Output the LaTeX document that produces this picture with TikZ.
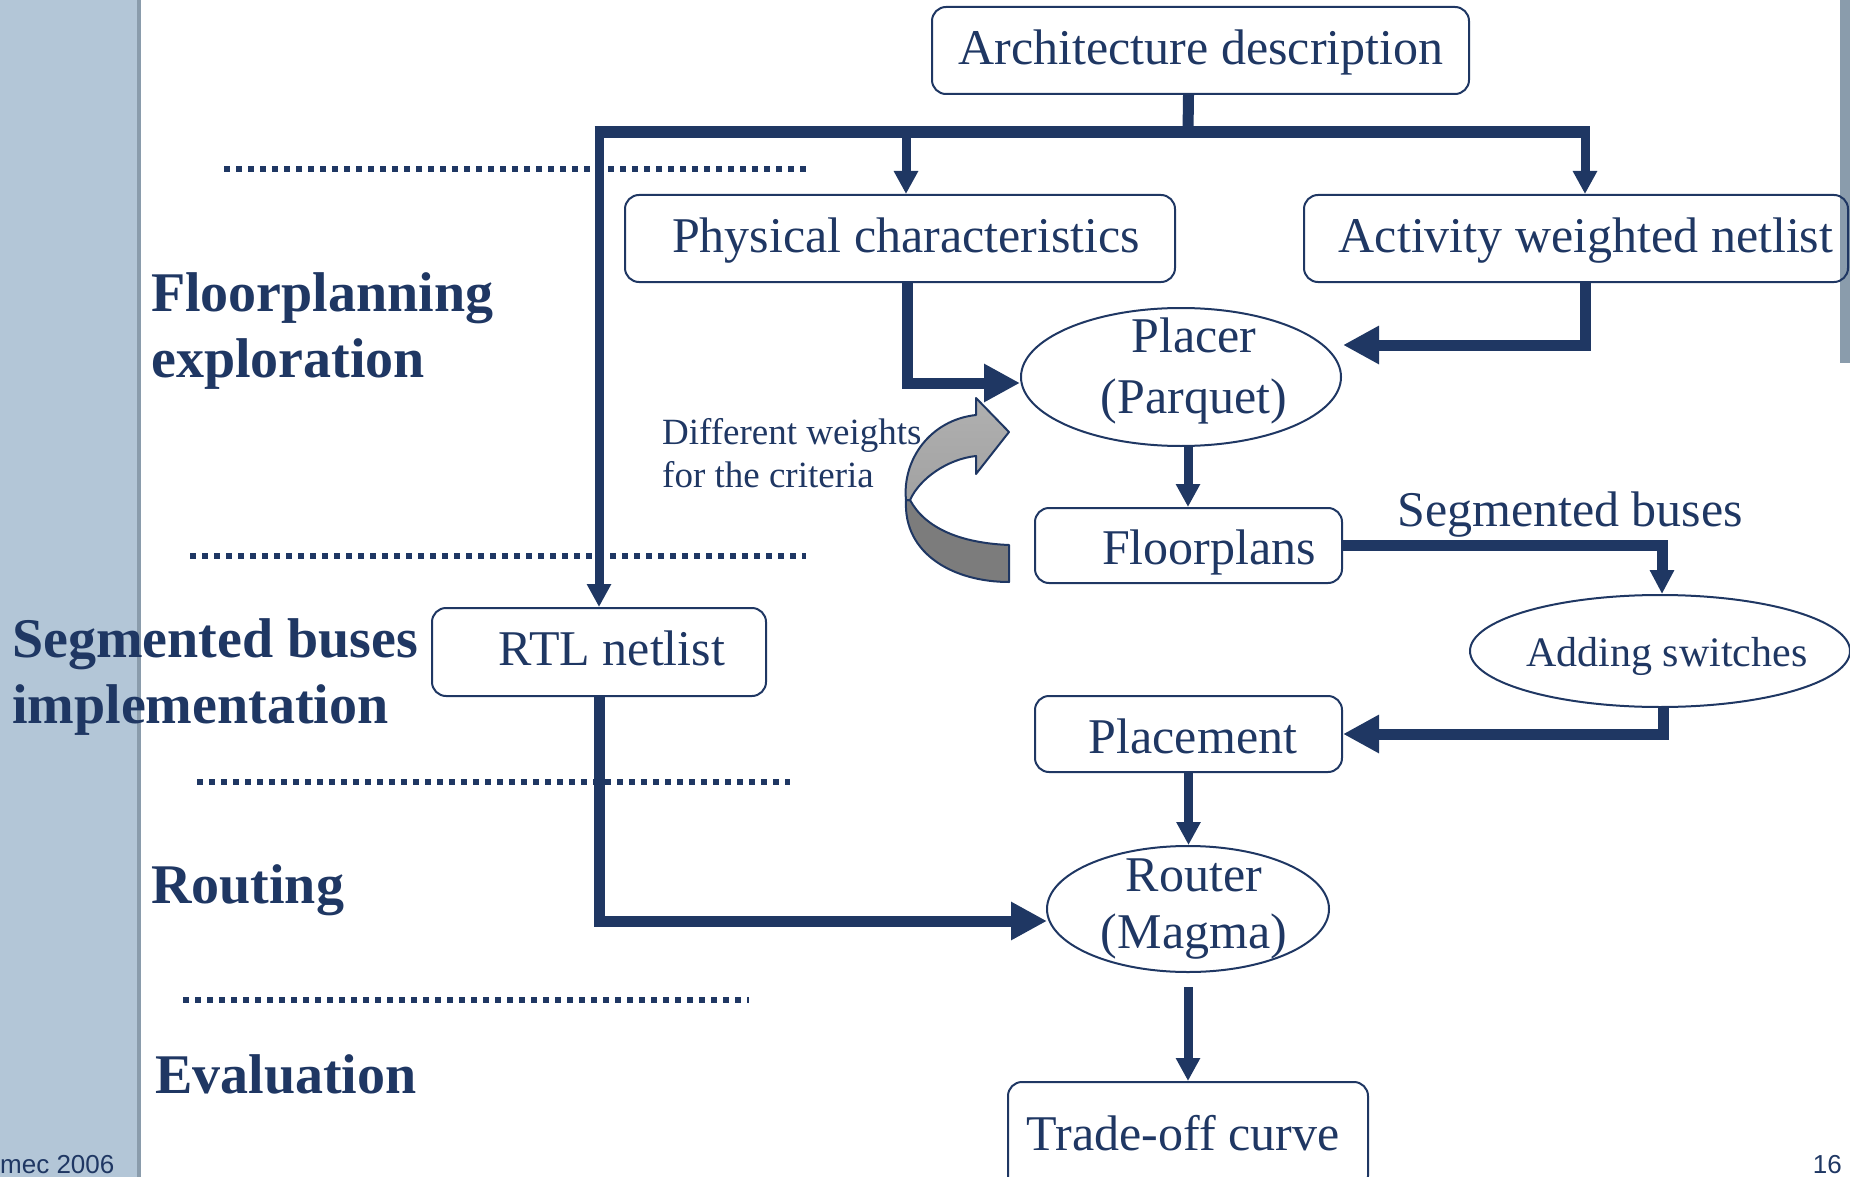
\documentclass[tikz,border=0pt]{standalone}
\usepackage{fontspec}
\setmainfont{Liberation Serif}
\newfontfamily\footfont{Liberation Sans}
\usetikzlibrary{arrows.meta,shapes.geometric}
\definecolor{navy}{HTML}{1F3763}
\definecolor{sidebar}{HTML}{B3C6D7}
\definecolor{sideedge}{HTML}{8A9CAC}
\definecolor{ribbonlight}{HTML}{A2A2A2}
\definecolor{ribbondark}{HTML}{7C7C7C}

\begin{document}
\begin{tikzpicture}[x=1pt,y=-1pt,
  boxnode/.style={draw=navy,line width=2pt,rounded corners=14pt,rectangle,inner sep=0pt},
  ovalnode/.style={draw=navy,line width=2pt,ellipse,inner sep=0pt},
  boxtext/.style={anchor=base,inner sep=0pt,text=navy,font=\fontsize{50}{60}\selectfont},
  smalltext/.style={anchor=base west,inner sep=0pt,text=navy,font=\fontsize{37}{44}\selectfont},
  phase/.style={anchor=base west,inner sep=0pt,text=navy,font=\fontsize{56}{66}\selectfont\bfseries},
  footer/.style={inner sep=0pt,text=navy,font=\fontsize{26}{31}\footfont},
  busbar/.style={draw=navy,line width=12pt},
  thinflow/.style={draw=navy,line width=9pt,-{Triangle[length=23pt,width=23pt]}},
  thickflow/.style={draw=navy,line width=11pt,line join=miter,-{Triangle[length=36pt,width=36pt]}},
  thickshort/.style={draw=navy,line width=11pt,line join=miter,-{Triangle[length=24pt,width=23pt]}},
  dotline/.style={draw=navy,line width=5.5pt,dash pattern=on 5.5pt off 6.5pt},
  ribbon/.style={draw=navy,line width=2pt,line join=round}]

\useasboundingbox (0,0) rectangle (1850,1177);

% side bars
\fill[sidebar] (0,0) rectangle (137,1177);
\fill[sideedge] (137,0) rectangle (141,1177);
\fill[sideedge] (1840,0) rectangle (1850,363);

% phase separators
\draw[dotline] (224,169) -- (806,169);
\draw[dotline] (190,556) -- (806,556);
\draw[dotline] (197,782) -- (790,782);
\draw[dotline] (183,1000) -- (749,1000);

% phase titles
\node[phase] (ph1a) at (151,311) {Floorplanning};
\node[phase] (ph1b) at (151,377) {exploration};
\node[phase] (ph2a) at (12,657) {Segmented buses};
\node[phase] (ph2b) at (12,723) {implementation};
\node[phase] (ph3) at (151,903) {Routing};
\node[phase] (ph4) at (155,1093) {Evaluation};

% boxes
\node[boxnode,minimum width=537pt,minimum height=87pt] (arch) at (1200.5,50.5) {};
\node[boxnode,minimum width=550pt,minimum height=87pt] (phys) at (900,238.5) {};
\node[boxnode,minimum width=544pt,minimum height=87pt] (act) at (1576,238.5) {};
\node[boxnode,minimum width=334pt,minimum height=88pt] (rtl) at (599,652) {};
\node[boxnode,minimum width=307pt,minimum height=75pt] (fp) at (1188.5,545.5) {};
\node[boxnode,minimum width=307pt,minimum height=76pt] (pl) at (1188.5,734) {};
\node[boxnode,minimum width=360pt,minimum height=108pt] (trade) at (1188,1136) {};

% ellipses
\node[ovalnode,minimum width=320pt,minimum height=138pt] (placer) at (1181,377) {};
\node[ovalnode,minimum width=380pt,minimum height=112pt] (add) at (1660,651) {};
\node[ovalnode,minimum width=282pt,minimum height=126pt] (router) at (1188,909) {};

% texts
\node[boxtext] (archT) at (1201,65) {Architecture description};
\node[boxtext] (physT) at (906,252) {Physical characteristics};
\node[boxtext] (actT) at (1586,252) {Activity weighted netlist};
\node[boxtext] (placerT1) at (1194,352) {Placer};
\node[boxtext] (placerT2) at (1194,413) {(Parquet)};
\node[boxtext] (fpT) at (1209,564) {Floorplans};
\node[boxtext] (rtlT) at (612,665) {RTL netlist};
\node[boxtext] (plT) at (1193,753) {Placement};
\node[boxtext] (routerT1) at (1194,891) {Router};
\node[boxtext] (routerT2) at (1194,948) {(Magma)};
\node[boxtext] (tradeT) at (1183,1150) {Trade-off curve};
\node[boxtext,font=\fontsize{42}{50}\selectfont] (addT) at (1667,666) {Adding switches};
\node[boxtext,anchor=base west] (segT) at (1397,526) {Segmented buses};
\node[smalltext] (wT1) at (662,444) {Different weights};
\node[smalltext] (wT2) at (662,487) {for the criteria};

% footer
\node[footer,anchor=base west] (foot) at (0,1173) {mec 2006};
\node[footer,anchor=base east] (page) at (1842,1173) {16};

% distribution bus from the architecture description
\coordinate (busM) at (1188,132);
\coordinate (busL) at (599,132);
\coordinate (busP) at (906,132);
\coordinate (busR) at (1585,132);
\draw[draw=navy,line width=11pt] ([xshift=-12pt]arch.south) -- (busM);
\draw[busbar] ([xshift=-4.5pt]busL) -- ([xshift=4.5pt]busR);
\draw[thinflow] (busL) -- (rtl.north);
\draw[thinflow] (busP) -- (busP |- phys.north);
\draw[thinflow] (busR) -- (busR |- act.north);

% flow through the tools
\coordinate (actin) at (1343,345);
\coordinate (rtrin) at (1047,921);
\draw[thickflow] ([xshift=7pt]phys.south) |- ([yshift=-6pt]placer.west);
\draw[thickflow] ([xshift=9pt]act.south) |- (actin);
\draw[thinflow] ([xshift=7pt]placer.south) -- ([xshift=7pt]placer.south |- fp.north);
\draw[thickshort] (fp.east) -| ([xshift=2pt]add.north);
\draw[thickflow] ([xshift=3pt]add.south) |- (pl.east);
\draw[thinflow] (pl.south) -- (pl.south |- router.north);
\draw[thickflow] (rtl.south) |- (rtrin);
\draw[thinflow,shorten <=14pt] (router.south) -- (router.south |- trade.north);

% curved feedback arrow from the floorplans back to the placer
\filldraw[ribbon,fill=ribbondark]
  (906,500) .. controls (903,555) and (955,582) .. (1009,582)
  -- (1009,545) .. controls (960,543) and (925,528) .. (910,500) -- cycle;
\filldraw[ribbon,top color=ribbonlight!85!white,bottom color=ribbonlight]
  (906,500) .. controls (902,460) and (930,420) .. (976,415)
  -- (976,398) -- (1009,432) -- (976,474) -- (976,456)
  .. controls (948,459) and (920,478) .. (910,500) -- cycle;

\end{tikzpicture}
\end{document}
